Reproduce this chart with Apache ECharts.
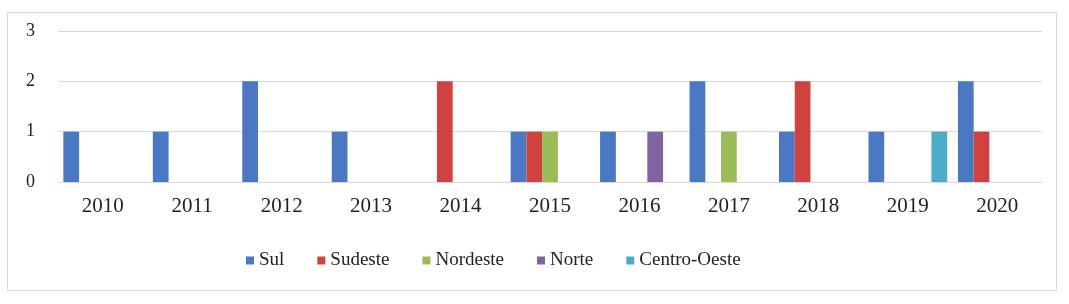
<!DOCTYPE html>
<html>
<head>
<meta charset="utf-8">
<script src="https://cdn.jsdelivr.net/npm/echarts@6/dist/echarts.min.js"></script>
<style>
html,body{margin:0;padding:0;background:#fff;}
#chart{width:1069px;height:304px;}
</style>
</head>
<body>
<div id="chart"></div>
<script>
const categories = ['2010','2011','2012','2013','2014','2015','2016','2017','2018','2019','2020'];
const sul         = [1,1,2,1,0,1,1,2,1,1,2];
const sudeste     = [0,0,0,0,2,1,0,0,2,0,1];
const nordeste    = [0,0,0,0,0,1,0,1,0,0,0];
const norte       = [0,0,0,0,0,0,1,0,0,0,0];
const centroOeste = [0,0,0,0,0,0,0,0,0,1,0];
const seriesNames = ['Sul','Sudeste','Nordeste','Norte','Centro-Oeste'];
const yTicks = [0,1,2,3];

const colors = ['#4A78C2','#D0423F','#9BBB59','#8064A2','#4BACC6'];
const font = '"Times New Roman","Liberation Serif",serif';
const seriesData = [sul, sudeste, nordeste, norte, centroOeste];

const chart = echarts.init(document.getElementById('chart'));
chart.setOption({
  animation: false,
  color: colors,
  graphic: [{
    type: 'rect',
    shape: {x: 7.5, y: 12.5, width: 1049, height: 278},
    style: {fill: 'none', stroke: '#d9d9d9', lineWidth: 1},
    silent: true
  }],
  grid: {left: 58, right: 27, top: 31, bottom: 122},
  legend: {
    left: 241, top: 246,
    icon: 'rect', itemWidth: 8, itemHeight: 8, itemGap: 33,
    textStyle: {fontFamily: font, fontSize: 19, color: '#222'},
    data: seriesNames
  },
  xAxis: {
    type: 'category',
    data: categories,
    axisLine: {show: true, lineStyle: {color: '#d9d9d9'}},
    axisTick: {show: false},
    axisLabel: {color: '#222', fontFamily: font, fontSize: 21, margin: 14}
  },
  yAxis: {
    type: 'value',
    min: yTicks[0], max: yTicks[yTicks.length-1], interval: 1,
    axisLine: {show: false},
    axisTick: {show: false},
    axisLabel: {color: '#222', fontFamily: font, fontSize: 18, margin: 23},
    splitLine: {lineStyle: {color: '#d9d9d9'}}
  },
  series: seriesNames.map((n, i) => ({
    name: n,
    type: 'bar',
    data: seriesData[i],
    barGap: '0%',
    barCategoryGap: '12%'
  }))
});
</script>
</body>
</html>
